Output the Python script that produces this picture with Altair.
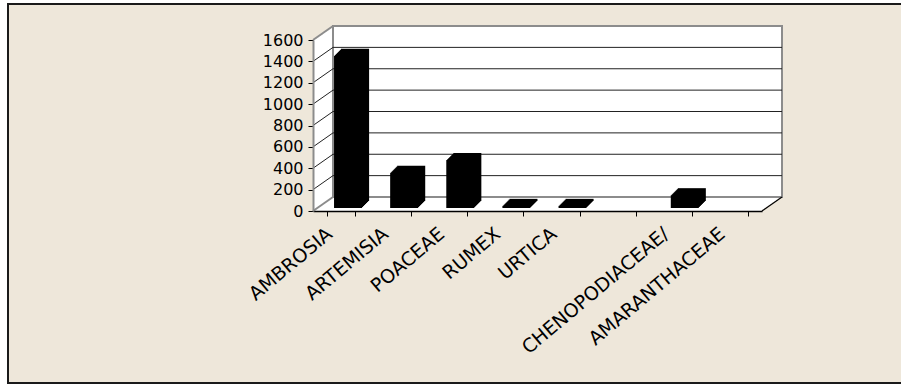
import altair as alt
import pandas as pd

# Pollen counts per taxon
taxa = ["AMBROSIA", "ARTEMISIA", "POACEAE", "RUMEX", "URTICA", " ",
        "CHENOPODIACEAE/", "AMARANTHACEAE"]
counts = [1425, 330, 450, 20, 20, None, 120, None]
y_ticks = [0, 200, 400, 600, 800, 1000, 1200, 1400, 1600]

W, H = 449, 171          # front face of the plot box
DX, DY = 20, 14          # depth of the box (back wall shift)
BEIGE = "#EEE7DA"
WALL_EDGE = "#8C8C8C"
FONT = "DejaVu Sans"

bars_df = pd.DataFrame({"taxon": taxa, "count": counts}).dropna()
inner_df = pd.DataFrame({"v": y_ticks[1:-1]})
edge_df = pd.DataFrame({"v": [y_ticks[0], y_ticks[-1]]})
one = pd.DataFrame({"k": [0]})

x_scale = alt.Scale(domain=taxa, paddingInner=0.5, paddingOuter=0.25)
y_scale = alt.Scale(domain=[0, 1600], nice=False)

x_axis = alt.Axis(
    title=None, zindex=2, domainColor="black", domainWidth=1.5,
    tickColor="black", tickSize=5, tickBand="extent",
    labelAngle=-40, labelAlign="right", labelBaseline="middle",
    labelFont=FONT, labelFontSize=19, labelColor="black",
    labelPadding=15, labelOffset=-12, labelOverlap=False, labelLimit=400,
)
y_axis = alt.Axis(
    title=None, zindex=2, values=y_ticks, grid=False, format="d",
    domainColor=WALL_EDGE, domainWidth=2,
    tickColor="black", tickSize=5,
    labelFont=FONT, labelFontSize=16, labelColor="black",
    labelPadding=5, labelOverlap=False,
)

# outer panel
frame = alt.Chart(one).mark_rect(fill=BEIGE, stroke="#1A1A1A", strokeWidth=2).encode(
    x=alt.value(-305), x2=alt.value(640), y=alt.value(-36), y2=alt.value(343)
)

# white box (front face swept back to the rear wall)
walls = []
for k in range(11):
    sx, sy = k * DX / 10, k * DY / 10
    walls.append(
        alt.Chart(one).mark_rect(fill="white", strokeWidth=0).encode(
            x=alt.value(sx), x2=alt.value(W + sx),
            y=alt.value(-sy), y2=alt.value(H - sy),
        )
    )

back_wall = alt.Chart(one).mark_rect(fill="white", stroke=WALL_EDGE, strokeWidth=2).encode(
    x=alt.value(DX), x2=alt.value(W + DX), y=alt.value(-DY), y2=alt.value(H - DY)
)

gridlines = alt.Chart(inner_df).mark_rule(color="#222222", strokeWidth=1, yOffset=-DY).encode(
    y=alt.Y("v:Q", scale=y_scale, axis=y_axis),
    x=alt.value(DX), x2=alt.value(W + DX),
)

side_lines = alt.Chart(inner_df).mark_rule(color="#222222", strokeWidth=1, y2Offset=-DY).encode(
    y=alt.Y("v:Q", scale=y_scale, axis=y_axis), y2="v:Q",
    x=alt.value(0), x2=alt.value(DX),
)

side_edges = alt.Chart(edge_df).mark_rule(color=WALL_EDGE, strokeWidth=2, y2Offset=-DY).encode(
    y=alt.Y("v:Q", scale=y_scale, axis=y_axis), y2="v:Q",
    x=alt.value(0), x2=alt.value(DX),
)

floor_edge = alt.Chart(one).mark_rule(color="black", strokeWidth=1.2).encode(
    x=alt.value(W), x2=alt.value(W + DX), y=alt.value(H), y2=alt.value(H - DY)
)

# columns drawn as stacked slices stepping back into the box to give them depth
bar_layers = []
for i in range(8):
    ox, oy = 7 + i, -3 - i
    bar_layers.append(
        alt.Chart(bars_df).mark_bar(
            color="black", xOffset=ox, x2Offset=ox, yOffset=oy, y2Offset=oy
        ).encode(
            x=alt.X("taxon:N", scale=x_scale, sort=taxa, axis=x_axis),
            y=alt.Y("count:Q", scale=y_scale, axis=y_axis),
        )
    )

chart = alt.layer(
    frame, *walls, back_wall, side_edges, gridlines, side_lines, floor_edge, *bar_layers
).properties(
    width=W, height=H,
    autosize=alt.AutoSizeParams(type="none"),
    padding={"left": 313, "top": 40, "right": 139, "bottom": 174},
    background="white",
).configure_view(strokeWidth=0)

chart.save("out.html", embed_options={"renderer": "svg", "actions": False})
